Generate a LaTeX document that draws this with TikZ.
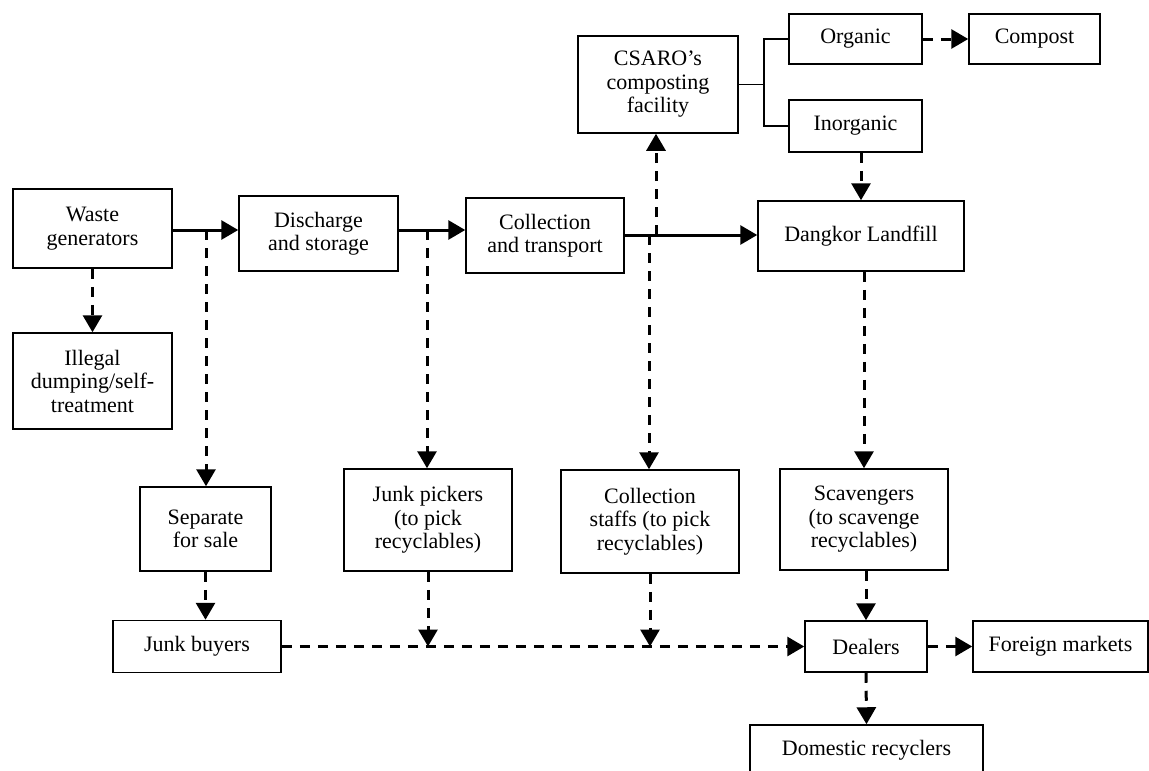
\documentclass[tikz,border=0pt]{standalone}
\usepackage{fontspec}
\setmainfont{Liberation Serif}
\usetikzlibrary{arrows.meta}
\begin{document}
\begin{tikzpicture}[x=1pt,y=-1pt,
  box/.style={draw, line width=1.5pt, align=center, inner sep=0pt,
    font=\fontsize{22}{23.5}\selectfont},
  flow/.style={line width=3pt, -{Triangle[length=17pt,width=19pt]}},
  dflow/.style={line width=3pt, dash pattern=on 10pt off 8pt,
    -{Triangle[length=17pt,width=19pt]}},
  branch/.style={line width=1.6pt}]
\useasboundingbox (0,0) rectangle (1149,771);
% boxes
\node[box, minimum width=159pt, minimum height=79pt] (waste) at (92.5,228.5) {Waste\\generators};
\node[box, minimum width=159pt, minimum height=96pt] (illegal) at (92.5,381) {Illegal\\dumping/self-\\treatment};
\node[box, minimum width=159pt, minimum height=75pt] (discharge) at (318.5,233.5) {Discharge\\and storage};
\node[box, minimum width=158pt, minimum height=75pt] (collection) at (545,235.5) {Collection\\and transport};
\node[box, minimum width=160pt, minimum height=97pt] (csaro) at (658,84.5) {CSARO’s\\composting\\facility};
\node[box, minimum width=133pt, minimum height=50pt] (organic) at (855.5,39) {Organic};
\node[box, minimum width=131pt, minimum height=50pt] (compost) at (1034.5,39) {Compost};
\node[box, minimum width=133pt, minimum height=52pt] (inorganic) at (855.5,126) {Inorganic};
\node[box, minimum width=206pt, minimum height=70pt] (dangkor) at (861,236) {Dangkor Landfill};
\node[box, minimum width=131pt, minimum height=84pt] (separate) at (205.5,529) {Separate\\for sale};
\node[box, minimum width=168pt, minimum height=102pt] (pickers) at (428,520) {Junk pickers\\(to pick\\recyclables)};
\node[box, minimum width=178pt, minimum height=103pt] (staffs) at (650,521.5) {Collection\\staffs (to pick\\recyclables)};
\node[box, minimum width=168pt, minimum height=101pt] (scavengers) at (864,519.5) {Scavengers\\(to scavenge\\recyclables)};
\node[box, minimum width=168pt, minimum height=52pt] (junkbuyers) at (197,646.5) {Junk buyers};
\node[box, minimum width=122pt, minimum height=51pt] (dealers) at (866,646.5) {Dealers};
\node[box, minimum width=175pt, minimum height=51pt] (foreign) at (1060.5,646.5) {Foreign markets};
\node[box, minimum width=233pt, minimum height=50pt] (domestic) at (866.5,750) {Domestic recyclers};
% junction points on main flow
\coordinate (j1) at (206,230);
\coordinate (j2) at (427,230);
\coordinate (j3) at (649,235);
\coordinate (j4) at (656,235);
% main solid flow
\draw[flow] (waste.east |- j1) -- (discharge.west |- j1);
\draw[flow] (discharge.east |- j2) -- (collection.west |- j2);
\draw[flow] (collection.east |- j3) -- (dangkor.west |- j3);
% composting branch
\draw[branch] (csaro.east) -- ++(25,0) coordinate (br);
\draw[branch] (organic.west) -| (br) |- (inorganic.west);
% dashed flows
\draw[dflow] (organic.east) -- (compost.west);
\draw[dflow] (inorganic.south -| dangkor.north) -- (dangkor.north);
\draw[dflow] (j4) -- (j4 |- csaro.south);
\draw[dflow] (waste.south) -- (illegal.north);
\draw[dflow] (j1) -- (j1 |- separate.north);
\draw[dflow] (separate.south) -- (separate.south |- junkbuyers.north);
\draw[dflow] (j2) -- (j2 |- pickers.north);
\draw[dflow] (j3) -- (j3 |- staffs.north);
\draw[dflow] (scavengers.north |- dangkor.south) -- (scavengers.north);
\draw[dflow] (dealers.north |- scavengers.south) -- (dealers.north);
\draw[dflow] (junkbuyers.east) -- (dealers.west);
\draw[dflow] (pickers.south) -- (pickers.south |- dealers.west);
\draw[dflow] (staffs.south) -- (staffs.south |- dealers.west);
\draw[dflow] (dealers.east) -- (foreign.west);
\draw[dflow] (dealers.south) -- (domestic.north);
\end{tikzpicture}
\end{document}
